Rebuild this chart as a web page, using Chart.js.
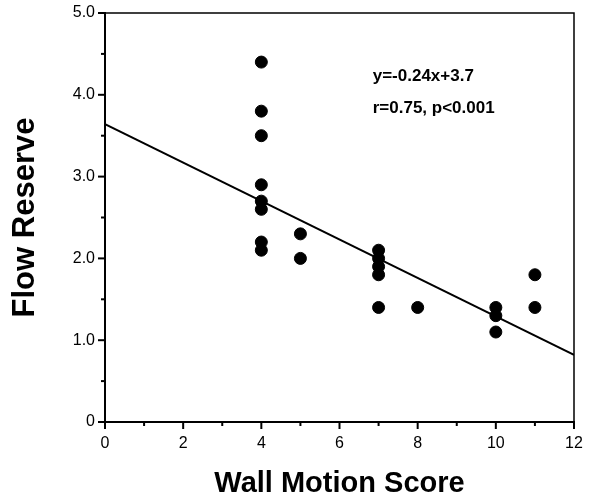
<!DOCTYPE html>
<html>
<head>
<meta charset="utf-8">
<script src="https://cdn.jsdelivr.net/npm/chart.js@4.4.1/dist/chart.umd.min.js"></script>
<style>
  html, body { margin: 0; padding: 0; background: #fff; }
  #wrap { width: 594px; height: 500px; }
</style>
</head>
<body>
<div id="wrap"><canvas id="c" width="594" height="500"></canvas></div>
<script>
// Data
const wallMotionScore = [4, 4, 4, 4, 4, 4, 4, 4, 5, 5, 7, 7, 7, 7, 7, 8, 10, 10, 10, 11, 11];
const flowReserve     = [4.4, 3.8, 3.5, 2.9, 2.7, 2.6, 2.2, 2.1, 2.3, 2.0, 2.1, 2.0, 1.9, 1.8, 1.4, 1.4, 1.4, 1.3, 1.1, 1.8, 1.4];
const fitX = [0, 12];
const fitY = [3.64, 0.82];
const xTickLabels = ['0', '', '2', '', '4', '', '6', '', '8', '', '10', '', '12'];
const yTickLabels = ['0', '', '1.0', '', '2.0', '', '3.0', '', '4.0', '', '5.0'];
const annotationLines = ['y=-0.24x+3.7', 'r=0.75, p<0.001'];
const xTitle = 'Wall Motion Score';
const yTitle = 'Flow Reserve';

const points = wallMotionScore.map((x, i) => ({ x: x, y: flowReserve[i] }));
const fitLine = fitX.map((x, i) => ({ x: x, y: fitY[i] }));

const FONT = "'Liberation Sans', Arial, Helvetica, sans-serif";

const tickPlugin = {
  id: 'tickMarks',
  afterDraw(chart) {
    const ctx = chart.ctx;
    const ca = chart.chartArea;
    ctx.save();
    ctx.strokeStyle = '#000';
    ctx.lineWidth = 1.5;
    // top and right frame
    ctx.beginPath();
    ctx.moveTo(ca.left, ca.top);
    ctx.lineTo(ca.right, ca.top);
    ctx.lineTo(ca.right, ca.bottom);
    ctx.stroke();
    ctx.lineWidth = 2;
    const xs = chart.scales.x, ys = chart.scales.y;
    xs.ticks.forEach((t, i) => {
      const px = xs.getPixelForValue(t.value);
      const len = (xTickLabels[i] !== '') ? 7 : 4;
      ctx.beginPath();
      ctx.moveTo(px, ca.bottom);
      ctx.lineTo(px, ca.bottom + len);
      ctx.stroke();
    });
    ys.ticks.forEach((t, i) => {
      const py = ys.getPixelForValue(t.value);
      const len = (yTickLabels[i] !== '') ? 7 : 4;
      ctx.beginPath();
      ctx.moveTo(ca.left, py);
      ctx.lineTo(ca.left - len, py);
      ctx.stroke();
    });
    // annotation text
    ctx.fillStyle = '#000';
    ctx.font = "bold 17px " + FONT;
    ctx.textAlign = 'left';
    ctx.textBaseline = 'alphabetic';
    const ax = xs.getPixelForValue(6.85);
    const ay = ys.getPixelForValue(4.17);
    annotationLines.forEach((s, i) => ctx.fillText(s, ax, ay + i * 32));
    ctx.restore();
  }
};

new Chart(document.getElementById('c'), {
  type: 'scatter',
  data: {
    datasets: [
      {
        data: points,
        backgroundColor: '#000',
        borderColor: '#000',
        pointRadius: 6,
        pointHoverRadius: 6,
        order: 1
      },
      {
        type: 'line',
        data: fitLine,
        borderColor: '#000',
        borderWidth: 2,
        pointRadius: 0,
        fill: false,
        tension: 0,
        order: 2
      }
    ]
  },
  options: {
    responsive: false,
    animation: false,
    events: [],
    layout: { padding: { top: 13, right: 20, left: 0, bottom: 0 } },
    plugins: { legend: { display: false }, tooltip: { enabled: false } },
    scales: {
      x: {
        type: 'linear',
        min: 0, max: 12,
        afterFit: s => { s.height = 78; },
        grid: { display: true, drawOnChartArea: false, drawTicks: true, tickLength: 7, color: 'rgba(0,0,0,0)' },
        border: { display: true, color: '#000', width: 2 },
        ticks: {
          stepSize: 1, autoSkip: false, maxRotation: 0, padding: 5,
          color: '#000',
          font: { family: FONT, size: 16 },
          callback: (v, i) => xTickLabels[i]
        },
        title: {
          display: true, text: xTitle, color: '#000',
          font: { family: FONT, size: 29, weight: 'bold', lineHeight: 1 },
          padding: { top: 0, bottom: 2 }
        }
      },
      y: {
        type: 'linear',
        min: 0, max: 5,
        afterFit: s => { s.width = 105; },
        grid: { display: true, drawOnChartArea: false, drawTicks: true, tickLength: 7, color: 'rgba(0,0,0,0)' },
        border: { display: true, color: '#000', width: 2 },
        ticks: {
          stepSize: 0.5, autoSkip: false, padding: 3,
          color: '#000',
          font: { family: FONT, size: 16 },
          callback: (v, i) => yTickLabels[i]
        },
        title: {
          display: true, text: yTitle, color: '#000',
          font: { family: FONT, size: 31, weight: 'bold', lineHeight: 1 },
          padding: { top: 10, bottom: 0 }
        }
      }
    }
  },
  plugins: [tickPlugin]
});
</script>
</body>
</html>
